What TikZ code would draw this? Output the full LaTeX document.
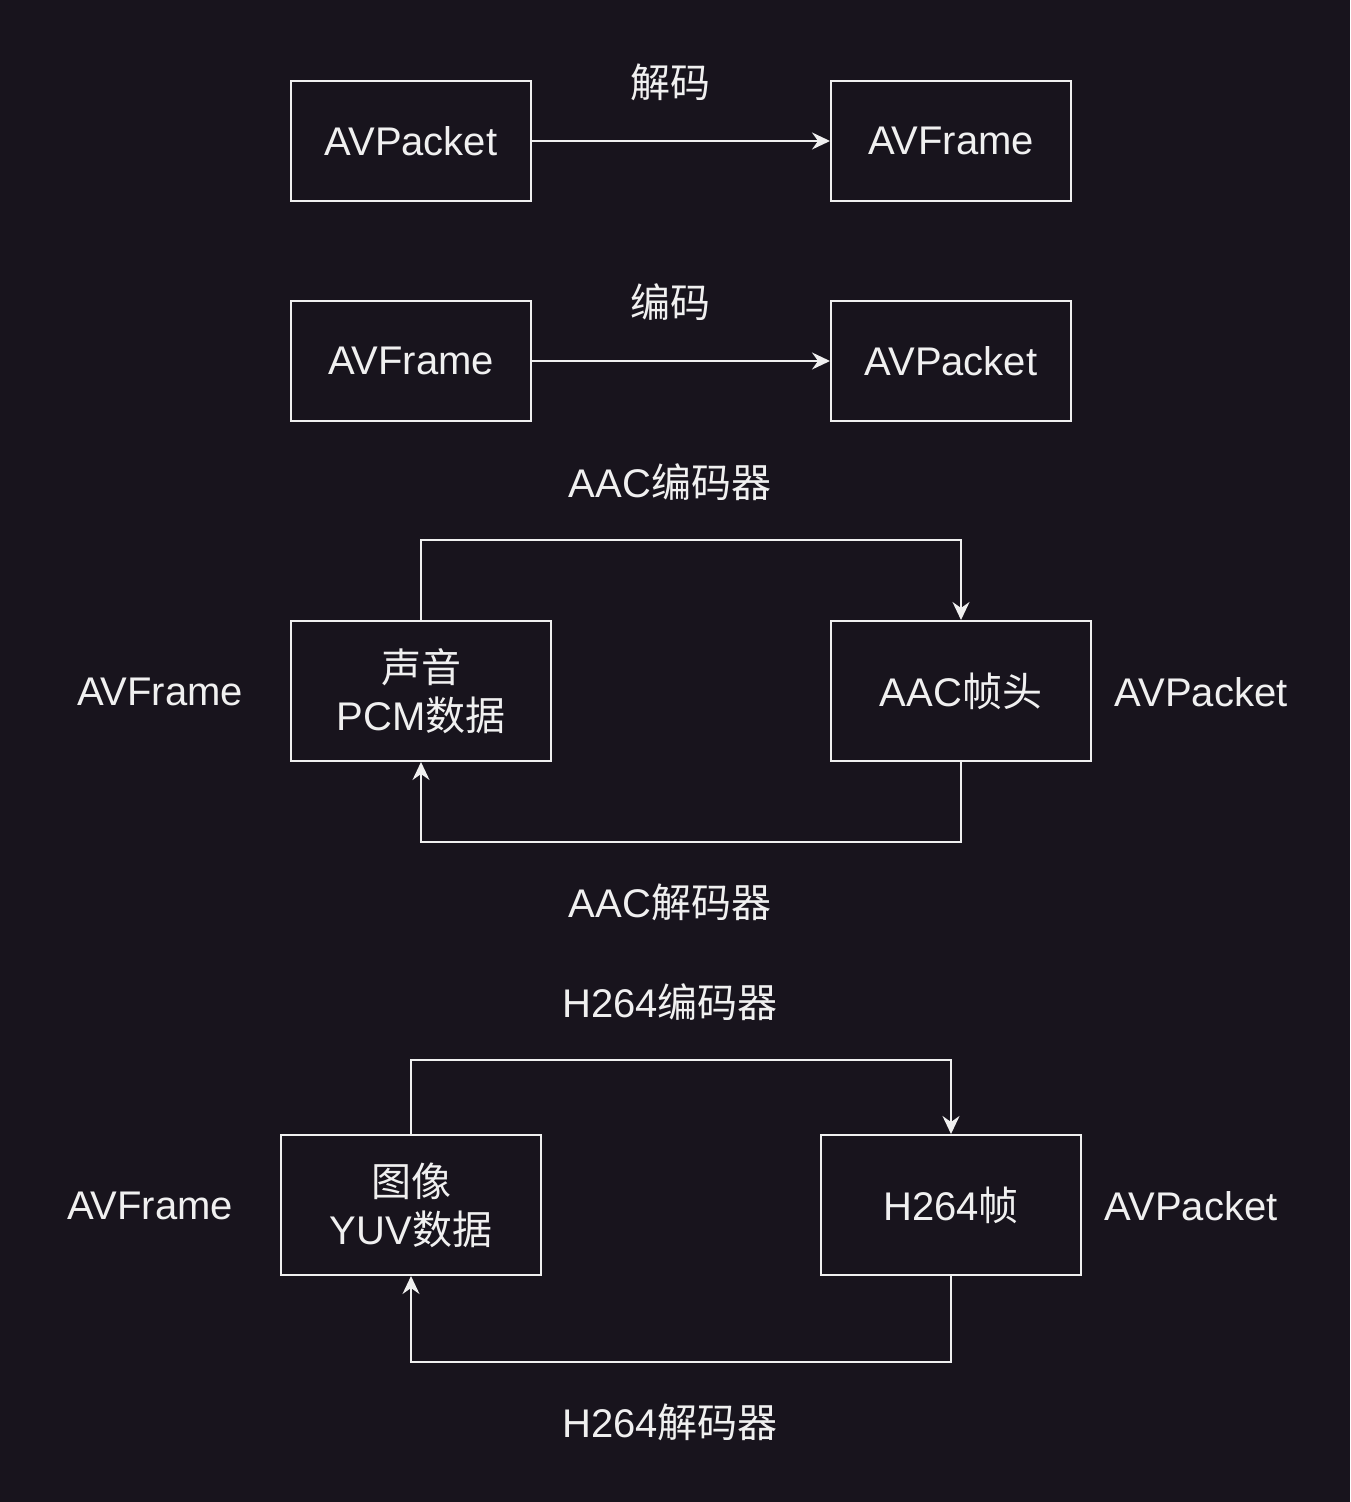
\documentclass[tikz,border=0pt]{standalone}
\usepackage{fontspec}
\setmainfont{Liberation Sans}
\newfontfamily\cjk{Noto Sans CJK SC}
\usepackage{tikz}
\usetikzlibrary{arrows.meta}
\definecolor{DarkBg}{RGB}{24,20,29}
\definecolor{Chalk}{RGB}{240,240,240}

\tikzset{
  box/.style={draw=Chalk,line width=1pt,inner sep=0pt,text=Chalk,
              font=\fontsize{20}{24}\selectfont,align=center},
  lbl/.style={text=Chalk,font=\fontsize{20}{24}\selectfont},
  flow/.style={draw=Chalk,line width=1pt,
               -{Stealth[length=9pt,width=8.5pt,inset=3pt]}}
}

\begin{document}
\begin{tikzpicture}[x=0.5pt,y=-0.5pt]
  \fill[DarkBg] (0,0) rectangle (1350,1502);
  \useasboundingbox (0,0) rectangle (1350,1502);

  % decode / encode
  \node[box,minimum width=120pt,minimum height=60pt] (pkt1) at (411,141) {AVPacket};
  \node[box,minimum width=120pt,minimum height=60pt] (frm1) at (951,141) {AVFrame};
  \draw[flow] (pkt1) -- (frm1);
  \node[lbl] (dec) at (670,82) {\cjk 解码};

  \node[box,minimum width=120pt,minimum height=60pt] (frm2) at (411,361) {AVFrame};
  \node[box,minimum width=120pt,minimum height=60pt] (pkt2) at (951,361) {AVPacket};
  \draw[flow] (frm2) -- (pkt2);
  \node[lbl] (enc) at (670,302) {\cjk 编码};

  % audio
  \node[lbl] (aacenc) at (670,482) {AAC{\cjk 编码器}};
  \node[box,minimum width=130pt,minimum height=70pt] (pcm) at (421,691)
    {{\cjk 声音}\\PCM{\cjk 数据}};
  \node[box,minimum width=130pt,minimum height=70pt] (aac) at (961,691)
    {AAC{\cjk 帧头}};
  \node[lbl] (afrm) at (160,692) {AVFrame};
  \node[lbl] (apkt) at (1201,692) {AVPacket};
  \draw[flow] (pcm.north) -- ++(0,-80) -| (aac.north);
  \draw[flow] (aac.south) -- ++(0,80) -| (pcm.south);
  \node[lbl] (aacdec) at (670,902) {AAC{\cjk 解码器}};

  % video
  \node[lbl] (h264enc) at (670,1002) {H264{\cjk 编码器}};
  \node[box,minimum width=130pt,minimum height=70pt] (yuv) at (411,1205)
    {{\cjk 图像}\\YUV{\cjk 数据}};
  \node[box,minimum width=130pt,minimum height=70pt] (h264) at (951,1205)
    {H264{\cjk 帧}};
  \node[lbl] (vfrm) at (150,1206) {AVFrame};
  \node[lbl] (vpkt) at (1191,1206) {AVPacket};
  \draw[flow] (yuv.north) -- ++(0,-74) -| (h264.north);
  \draw[flow] (h264.south) -- ++(0,86) -| (yuv.south);
  \node[lbl] (h264dec) at (670,1422) {H264{\cjk 解码器}};
\end{tikzpicture}
\end{document}
